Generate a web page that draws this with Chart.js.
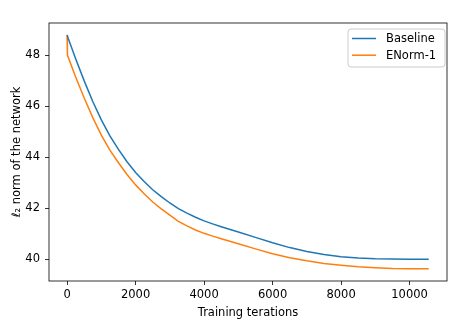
<!DOCTYPE html>
<html>
<head>
<meta charset="utf-8">
<script src="https://cdn.jsdelivr.net/npm/chart.js@4.4.1/dist/chart.umd.min.js"></script>
<style>
  html, body { margin: 0; padding: 0; background: #fff; }
  #wrap { width: 457px; height: 323px; }
</style>
</head>
<body>
<div id="wrap"><canvas id="normChart"></canvas></div>
<script>
// values
const baselineIter = [0, 250, 500, 750, 1000, 1250, 1500, 1750, 2000, 2250, 2500, 2750, 3000, 3250, 3500, 3750, 4000, 4250, 4500, 5000, 5500, 6000, 6500, 7000, 7500, 8000, 8500, 9000, 9500, 10000, 10560];
const baselineNorm = [48.78, 47.86, 46.99, 46.18, 45.46, 44.83, 44.3, 43.82, 43.4, 43.04, 42.72, 42.45, 42.2, 41.98, 41.8, 41.64, 41.5, 41.38, 41.27, 41.06, 40.85, 40.64, 40.45, 40.3, 40.18, 40.09, 40.04, 40.01, 40.0, 39.99, 39.99];
const enormIter = [0, 10, 250, 500, 750, 1000, 1250, 1500, 1750, 2000, 2250, 2500, 2750, 3000, 3250, 3500, 3750, 4000, 4250, 4500, 5000, 5500, 6000, 6500, 7000, 7500, 8000, 8500, 9000, 9500, 10000, 10560];
const enormNorm = [48.8, 48.0, 47.14, 46.32, 45.55, 44.86, 44.27, 43.78, 43.32, 42.91, 42.56, 42.24, 41.97, 41.72, 41.48, 41.3, 41.14, 41.01, 40.9, 40.8, 40.6, 40.4, 40.21, 40.05, 39.93, 39.83, 39.76, 39.7, 39.66, 39.63, 39.62, 39.62];
const seriesNames = ["Baseline", "ENorm-1"];
const xTicks = [0, 2000, 4000, 6000, 8000, 10000];
const yTicks = [40, 42, 44, 46, 48];

const FONT = "'DejaVu Sans', sans-serif";
const FONT_SIZE = 11.5;
const toPoints = (xs, ys) => xs.map((x, i) => ({ x: x, y: ys[i] }));

// matplotlib style box + legend in the upper right
const frameAndLegend = {
  id: "frameAndLegend",
  afterDraw(chart) {
    const ctx = chart.ctx;
    const a = chart.chartArea;
    ctx.save();
    ctx.strokeStyle = "#000";
    ctx.lineWidth = 0.8;
    ctx.strokeRect(a.left, a.top, a.right - a.left, a.bottom - a.top);

    const bx = a.right - 99, by = a.top + 6, bw = 97, bh = 38;
    ctx.beginPath();
    ctx.roundRect(bx, by, bw, bh, 3);
    ctx.fillStyle = "rgba(255,255,255,0.8)";
    ctx.fill();
    ctx.strokeStyle = "#cccccc";
    ctx.lineWidth = 1;
    ctx.stroke();

    ctx.font = FONT_SIZE + "px " + FONT;
    ctx.textBaseline = "middle";
    chart.data.datasets.forEach((ds, i) => {
      const y = by + 9.5 + i * 16.7;
      ctx.beginPath();
      ctx.moveTo(bx + 4, y);
      ctx.lineTo(bx + 28, y);
      ctx.strokeStyle = ds.borderColor;
      ctx.lineWidth = 1.5;
      ctx.stroke();
      ctx.fillStyle = "#000";
      ctx.fillText(ds.label, bx + 38, y + 0.5);
    });
    ctx.restore();
  }
};

const tickMarks = {
  drawOnChartArea: false,
  drawTicks: true,
  tickLength: 4,
  color: "#000",
  lineWidth: 0.8
};

new Chart(document.getElementById("normChart"), {
  type: "line",
  data: {
    datasets: [
      {
        label: seriesNames[0],
        data: toPoints(baselineIter, baselineNorm),
        borderColor: "#1f77b4",
        borderWidth: 1.5,
        pointRadius: 0,
        tension: 0,
        fill: false
      },
      {
        label: seriesNames[1],
        data: toPoints(enormIter, enormNorm),
        borderColor: "#ff7f0e",
        borderWidth: 1.5,
        pointRadius: 0,
        tension: 0,
        fill: false
      }
    ]
  },
  options: {
    responsive: true,
    maintainAspectRatio: false,
    animation: false,
    layout: { padding: { top: 23, right: 10, bottom: 0, left: 0 } },
    plugins: {
      legend: { display: false },
      tooltip: { enabled: false }
    },
    scales: {
      x: {
        type: "linear",
        min: -528,
        max: 11093,
        grid: tickMarks,
        border: { display: false },
        afterBuildTicks: s => { s.ticks = xTicks.map(v => ({ value: v })); },
        afterFit: s => { s.height = 42; },
        ticks: {
          color: "#000",
          font: { family: FONT, size: FONT_SIZE },
          padding: 3,
          maxRotation: 0,
          autoSkip: false,
          callback: v => String(v)
        },
        title: {
          display: true,
          text: "Training terations",
          color: "#000",
          font: { family: FONT, size: FONT_SIZE },
          padding: { top: 2, bottom: 3 }
        }
      },
      y: {
        type: "linear",
        min: 39.14,
        max: 49.26,
        grid: tickMarks,
        border: { display: false },
        afterBuildTicks: s => { s.ticks = yTicks.map(v => ({ value: v })); },
        afterFit: s => { s.width = 49; },
        ticks: {
          color: "#000",
          font: { family: FONT, size: FONT_SIZE },
          padding: 5,
          autoSkip: false,
          callback: v => String(v)
        },
        title: {
          display: true,
          text: "ℓ₂ norm of the network",
          color: "#000",
          font: { family: FONT, size: FONT_SIZE },
          padding: { top: 10, bottom: 4 }
        }
      }
    }
  },
  plugins: [frameAndLegend]
});
</script>
</body>
</html>
